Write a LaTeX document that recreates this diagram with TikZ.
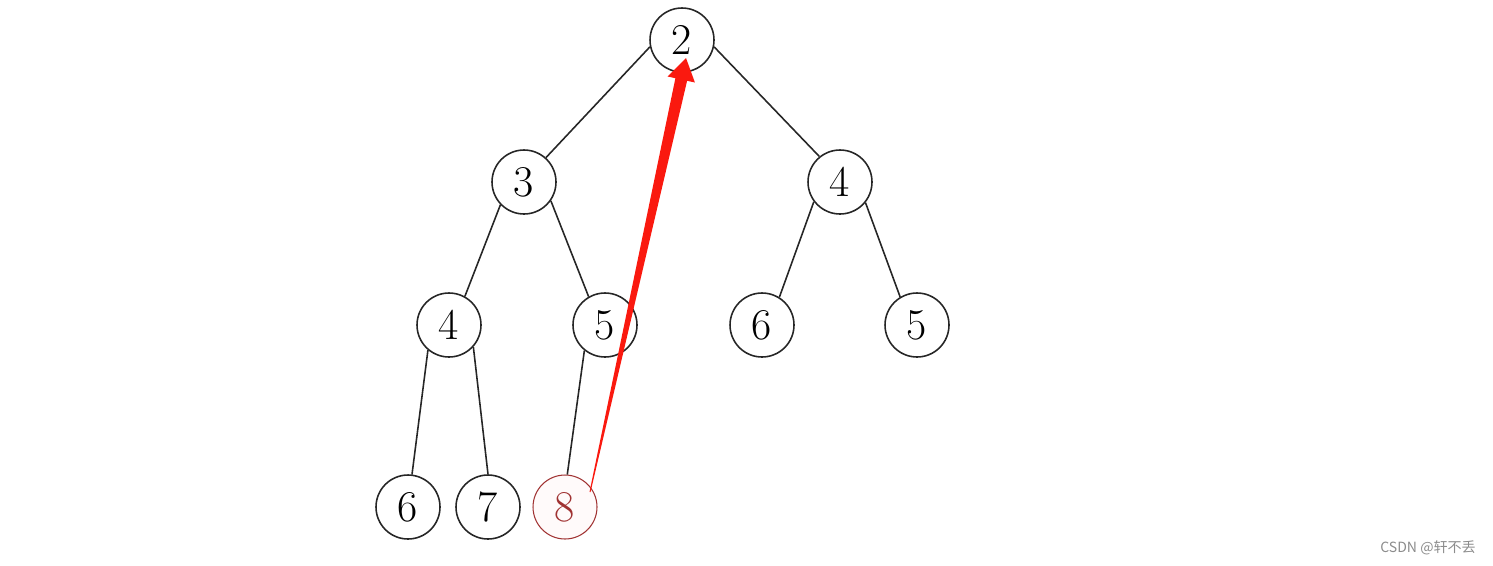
\documentclass[tikz,border=0pt]{standalone}
\usepackage{fontspec}
\newfontfamily\cjk{Noto Sans CJK SC}
\definecolor{heapred}{RGB}{160,50,50}
\definecolor{arrowred}{RGB}{250,25,15}
\begin{document}
\begin{tikzpicture}[x=0.02cm, y=-0.02cm,
    heapnode/.style={circle, draw=black!85, line width=0.9pt, minimum size=1.28cm,
      inner sep=0pt, font=\fontsize{25}{30}\selectfont},
    newnode/.style={heapnode, draw=heapred, line width=0.6pt, text=heapred, fill=red!2},
    heapedge/.style={draw=black!85, line width=0.9pt}]
  \useasboundingbox (0,0) rectangle (1493,565);
  % levels 0 and 1
  \node [heapnode] (n2) at (682, 40) {2};
  \node [heapnode] (n3) at (524, 182) {3};
  \node [heapnode] (n4r) at (840, 182) {4};
  % level 2
  \node [heapnode] (n4l) at (449, 325) {4};
  \node [heapnode] (n5l) at (605, 325) {5};
  \node [heapnode] (n6r) at (762, 325) {6};
  \node [heapnode] (n5r) at (917, 325) {5};
  % level 3
  \node [heapnode] (n6l) at (408, 507) {6};
  \node [heapnode] (n7) at (488, 507) {7};
  \node [newnode] (n8) at (565, 507) {8};
  \draw [heapedge] (n2.192) -- (n3.48);
  \draw [heapedge] (n2.348) -- (n4r.129);
  \draw [heapedge] (n3.224) -- (n4l.61);
  \draw [heapedge] (n3.325) -- (n5l.120);
  \draw [heapedge] (n4r.217) -- (n6r.58);
  \draw [heapedge] (n4r.321) -- (n5r.121);
  \draw [heapedge] (n4l.230) -- (n6l.83);
  \draw [heapedge] (n4l.318) -- (n7.90);
  \draw [heapedge] (n5l.231) -- (n8.86);
  % red arrow, 8 up to 2
  \fill [arrowred] (589.5, 491.9) -- (675.4, 78.2) -- (667.6, 76.5) -- (686, 58)
    -- (694.9, 82.5) -- (687.1, 80.8) -- (590.5, 492.1) -- cycle;
  \node [text=black!45, font=\cjk\fontsize{8}{10}\selectfont] (mark) at (1428, 548) {CSDN @轩不丢};
\end{tikzpicture}
\end{document}
